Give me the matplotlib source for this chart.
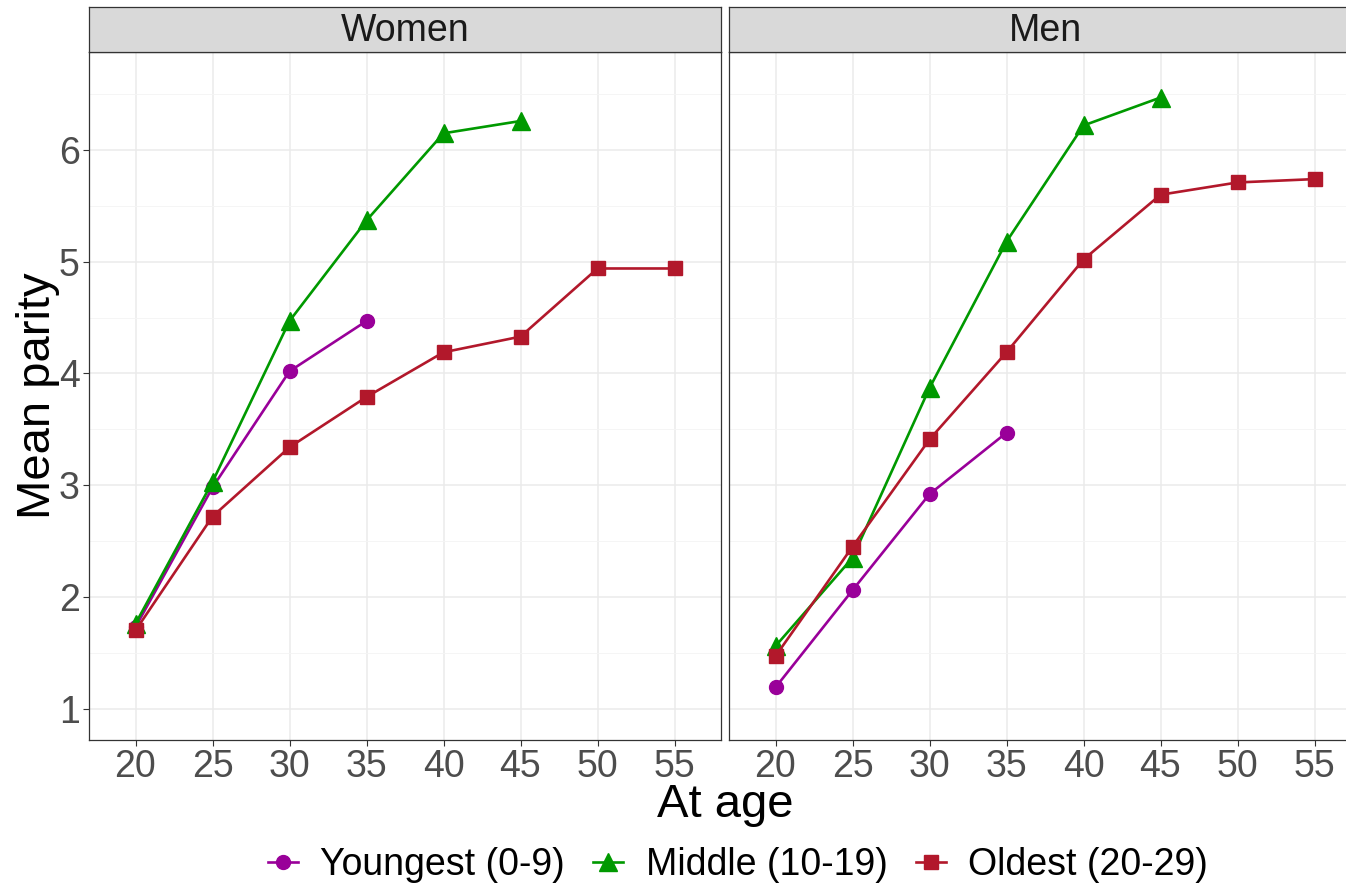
"""Mean parity by age, faceted by sex, one line per birth-order group (ggplot look)."""
import matplotlib
matplotlib.use("Agg")
import matplotlib.pyplot as plt
import numpy as np

plt.rcParams["font.family"] = ["Liberation Sans", "DejaVu Sans"]

AGES = [20, 25, 30, 35, 40, 45, 50, 55]
PANELS = ["Women", "Men"]
GROUPS = ["Youngest (0-9)", "Middle (10-19)", "Oldest (20-29)"]

# values
WOMEN_YOUNGEST = [1.73, 2.98, 4.02, 4.47]
WOMEN_MIDDLE = [1.76, 3.03, 4.47, 5.37, 6.15, 6.26]
WOMEN_OLDEST = [1.70, 2.72, 3.34, 3.79, 4.19, 4.33, 4.94, 4.94]
MEN_YOUNGEST = [1.19, 2.06, 2.92, 3.47]
MEN_MIDDLE = [1.56, 2.35, 3.87, 5.18, 6.22, 6.47]
MEN_OLDEST = [1.47, 2.45, 3.41, 4.19, 5.02, 5.60, 5.71, 5.74]

DATA = {
    "Women": [WOMEN_YOUNGEST, WOMEN_MIDDLE, WOMEN_OLDEST],
    "Men": [MEN_YOUNGEST, MEN_MIDDLE, MEN_OLDEST],
}
COLORS = ["#990099", "#009900", "#B2182B"]
MARKERS = ["o", "^", "s"]
MSIZE = [10, 12.5, 10.5]

W, H = 1346, 889
fig = plt.figure(figsize=(W / 100, H / 100), dpi=100)

PX_LEFT = [89.3, 729.3]
PX_W = 631.4
PX_TOP, PX_BOT = 52.3, 739.5
STRIP_TOP = 7.0

handles = []
for k, name in enumerate(PANELS):
    ax = fig.add_axes([PX_LEFT[k] / W, 1 - PX_BOT / H, PX_W / W, (PX_BOT - PX_TOP) / H])
    ax.set_facecolor("white")
    ax.set_axisbelow(True)
    for g, vals in enumerate(DATA[name]):
        ln, = ax.plot(AGES[: len(vals)], vals, color=COLORS[g], lw=1.9,
                      marker=MARKERS[g], ms=MSIZE[g], mec=COLORS[g], mfc=COLORS[g],
                      label=GROUPS[g], zorder=3)
        if k == 0:
            handles.append(ln)
    ax.set_xlim(17, 58)
    ax.set_ylim(0.724, 6.875)
    ax.set_xticks(AGES)
    ax.set_xticks(np.arange(17.5, 58, 5), minor=True)
    ax.set_yticks([1, 2, 3, 4, 5, 6])
    ax.set_yticks([1.5, 2.5, 3.5, 4.5, 5.5, 6.5], minor=True)
    ax.grid(which="major", color="#EBEBEB", lw=1.1)
    ax.grid(which="minor", axis="y", color="#F4F4F4", lw=0.6)
    ax.tick_params(axis="x", which="minor", length=0)
    ax.tick_params(axis="y", which="minor", length=0)
    ax.tick_params(which="major", length=4, width=0.8, color="#333333",
                   labelsize=27, labelcolor="#4D4D4D", pad=3)
    if k == 1:
        ax.tick_params(axis="y", which="major", length=0, labelleft=False)
    for s in ax.spines.values():
        s.set_color("#333333")
        s.set_linewidth(0.9)

    sax = fig.add_axes([PX_LEFT[k] / W, 1 - PX_TOP / H, PX_W / W, (PX_TOP - STRIP_TOP) / H])
    sax.set_facecolor("#D9D9D9")
    sax.set_xticks([])
    sax.set_yticks([])
    for s in sax.spines.values():
        s.set_color("#333333")
        s.set_linewidth(0.9)
    sax.text(0.5, 0.48, name, ha="center", va="center", fontsize=27,
             color="#1A1A1A", transform=sax.transAxes)

fig.text(38 / W, 1 - (PX_TOP + PX_BOT) / 2 / H, "Mean parity", rotation=90,
         ha="center", va="center", fontsize=34)
fig.text(725 / W, 1 - 805 / H, "At age", ha="center", va="center", fontsize=34)

fig.legend(handles=handles, loc="center", bbox_to_anchor=(738 / W, 1 - 865 / H),
           ncol=3, frameon=False, fontsize=27, handlelength=0.8,
           handletextpad=0.6, columnspacing=0.75, borderaxespad=0)

fig.savefig("out.png", dpi=100)
